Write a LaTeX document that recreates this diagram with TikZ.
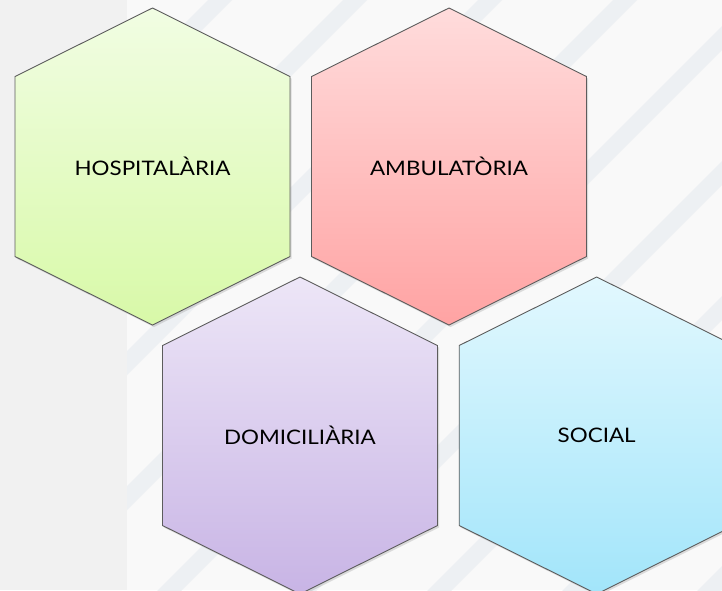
\documentclass[tikz,border=0pt]{standalone}
\usepackage{fontspec}
\setmainfont{Lato}
\usetikzlibrary{shadows}
\definecolor{bgmain}{HTML}{F9F9F9}
\definecolor{bgleft}{HTML}{F1F1F1}
\definecolor{stripe}{HTML}{EDF0F3}
\definecolor{hexline}{HTML}{5C5C5C}
\definecolor{gtop}{HTML}{F1FDE3}
\definecolor{gbot}{HTML}{D8F9A8}
\definecolor{rtop}{HTML}{FFDCDC}
\definecolor{rbot}{HTML}{FFA3A3}
\definecolor{ptop}{HTML}{EDE6F7}
\definecolor{pbot}{HTML}{C8B4E5}
\definecolor{btop}{HTML}{E2F8FE}
\definecolor{bbot}{HTML}{A2E5FA}
\newcommand\hexlabel[1]{\scalebox{1.12}[1]{#1}}
\begin{document}
\begin{tikzpicture}[x=1pt,y=-1pt,
  hexa/.style={draw=hexline, line width=0.9pt, line join=miter,
    drop shadow={opacity=0.25, shadow xshift=1.5pt, shadow yshift=-2pt}},
  lbl/.style={font=\fontsize{20}{24}\selectfont, text=black, inner sep=0pt}]
\useasboundingbox (0,0) rectangle (722,590);
\clip (0,0) rectangle (722,590);
\fill[bgmain] (0,0) rectangle (722,590);
\fill[bgleft] (0,0) rectangle (127,590);
\begin{scope}
  \clip (127,0) rectangle (722,590);
  \foreach \s in {220,355,...,1435}
    \fill[stripe] (\s-12,0) -- (\s+12,0) -- (\s+12-700,700) -- (\s-12-700,700) -- cycle;
\end{scope}
% HOSPITALARIA
\begin{scope}[shift={(152.5,166.5)}]
  \path[hexa, top color=gtop, bottom color=gbot]
    (0,-158.5) -- (137.5,-90) -- (137.5,90) -- (0,158.5) -- (-137.5,90) -- (-137.5,-90) -- cycle;
  \node[lbl] (hosp) at (0,0) {\hexlabel{HOSPITALÀRIA}};
\end{scope}
% AMBULATORIA
\begin{scope}[shift={(449,166.5)}]
  \path[hexa, top color=rtop, bottom color=rbot]
    (0,-158.5) -- (137.5,-90) -- (137.5,90) -- (0,158.5) -- (-137.5,90) -- (-137.5,-90) -- cycle;
  \node[lbl] (ambu) at (0,0) {\hexlabel{AMBULATÒRIA}};
\end{scope}
% DOMICILIARIA
\begin{scope}[shift={(300,435.5)}]
  \path[hexa, top color=ptop, bottom color=pbot]
    (0,-158.5) -- (137.5,-90) -- (137.5,90) -- (0,158.5) -- (-137.5,90) -- (-137.5,-90) -- cycle;
  \node[lbl] (domi) at (0,0) {\hexlabel{DOMICILIÀRIA}};
\end{scope}
% SOCIAL
\begin{scope}[shift={(596.7,435.5)}]
  \path[hexa, top color=btop, bottom color=bbot]
    (0,-158.5) -- (137.5,-90) -- (137.5,90) -- (0,158.5) -- (-137.5,90) -- (-137.5,-90) -- cycle;
  \node[lbl] (soci) at (0,0) {\hexlabel{SOCIAL}};
\end{scope}
\end{tikzpicture}
\end{document}
